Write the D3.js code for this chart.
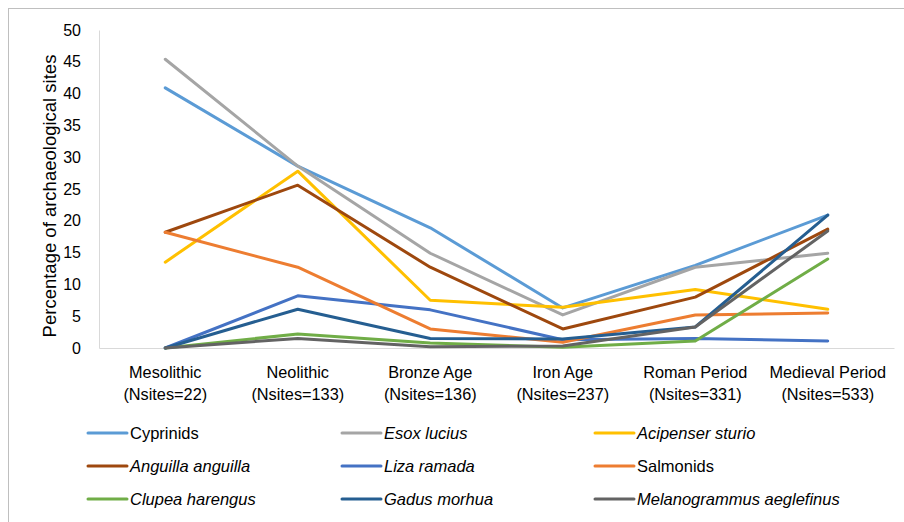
<!DOCTYPE html>
<html><head><meta charset="utf-8">
<script src="https://cdn.jsdelivr.net/npm/d3@7"></script>
<style>body{margin:0;background:#fff;} svg{display:block;}</style>
</head><body>
<svg id="c" width="904" height="522"></svg>
<script>
const periods = ["Mesolithic","Neolithic","Bronze Age","Iron Age","Roman Period","Medieval Period"];
const nsites = ["(Nsites=22)","(Nsites=133)","(Nsites=136)","(Nsites=237)","(Nsites=331)","(Nsites=533)"];
const yTicks = [0,5,10,15,20,25,30,35,40,45,50];
const seriesNames = ["Cyprinids","Esox lucius","Acipenser sturio","Anguilla anguilla","Liza ramada","Salmonids","Clupea harengus","Gadus morhua","Melanogrammus aeglefinus"];
const italic = [false,true,true,true,true,false,true,true,true];
const colors = ["#5B9BD5","#A5A5A5","#FFC000","#9E480E","#4472C4","#ED7D31","#70AD47","#255E91","#636363"];
const cyprinids = [40.9,28.6,18.9,6.3,13.0,20.9];
const esox = [45.4,28.6,14.9,5.2,12.7,14.9];
const acipenser = [13.5,27.8,7.5,6.4,9.2,6.1];
const anguilla = [18.2,25.6,12.7,3.0,8.0,18.7];
const liza = [0,8.2,6.0,1.3,1.5,1.1];
const salmonids = [18.2,12.7,3.0,0.9,5.2,5.5];
const clupea = [0,2.2,0.8,0.1,1.1,14.0];
const gadus = [0,6.1,1.5,1.4,3.3,20.9];
const melanogrammus = [0,1.5,0.2,0.3,3.3,18.4];
const values = [cyprinids,esox,acipenser,anguilla,liza,salmonids,clupea,gadus,melanogrammus];

const svg = d3.select("#c");
const font = "Liberation Sans, Arial, sans-serif";
// border (top & left visible)
svg.append("line").attr("x1",8).attr("x2",904).attr("y1",8.5).attr("y2",8.5).attr("stroke","#BFBFBF");
svg.append("line").attr("x1",8.5).attr("x2",8.5).attr("y1",8).attr("y2",522).attr("stroke","#BFBFBF");

const x = d3.scaleBand().domain(periods).range([99,894]);
const y = d3.scaleLinear().domain([0,50]).range([348,30]);

// y axis
const ya = svg.append("g").attr("transform","translate(99,0)").call(d3.axisLeft(y).tickValues(yTicks).tickSize(0).tickPadding(18));
ya.select(".domain").attr("stroke","#D9D9D9");
ya.selectAll("text").attr("font-family",font).attr("font-size",16).attr("fill","#000");
// x axis
const xa = svg.append("g").attr("transform","translate(0,348)").call(d3.axisBottom(x).tickSize(0).tickFormat(""));
xa.select(".domain").attr("stroke","#D9D9D9");
xa.selectAll(".tick").each(function(d,i){
  const t = d3.select(this).append("text").attr("font-family",font).attr("font-size",16.3).attr("fill","#000").attr("text-anchor","middle");
  t.append("tspan").attr("x",0).attr("y",30).text(periods[i]);
  t.append("tspan").attr("x",0).attr("y",52).text(nsites[i]);
});

// y title
svg.append("text").attr("transform","translate(50,196) rotate(-90)").attr("text-anchor","middle").attr("dy","0.35em")
  .attr("font-family",font).attr("font-size",18.5).attr("fill","#000").text("Percentage of archaeological sites");

// lines
const line = d3.line().x((d,i)=>x(periods[i])+x.bandwidth()/2).y(d=>y(d));
values.forEach((v,k)=>{
  svg.append("path").datum(v).attr("d",line).attr("fill","none").attr("stroke",colors[k])
    .attr("stroke-width",3).attr("stroke-linejoin","round").attr("stroke-linecap","round");
});

// legend
const colX = [88,342,595];
const rowY = [433,466,499];
seriesNames.forEach((n,k)=>{
  const cx = colX[k%3], cy = rowY[Math.floor(k/3)];
  svg.append("line").attr("x1",cx).attr("x2",cx+39).attr("y1",cy).attr("y2",cy).attr("stroke",colors[k]).attr("stroke-width",3).attr("stroke-linecap","round");
  svg.append("text").attr("x",cx+42).attr("y",cy+5.5).attr("font-family",font).attr("font-size",16.5)
    .attr("font-style",italic[k]?"italic":"normal").attr("fill","#000").text(n);
});
</script>
</body></html>
